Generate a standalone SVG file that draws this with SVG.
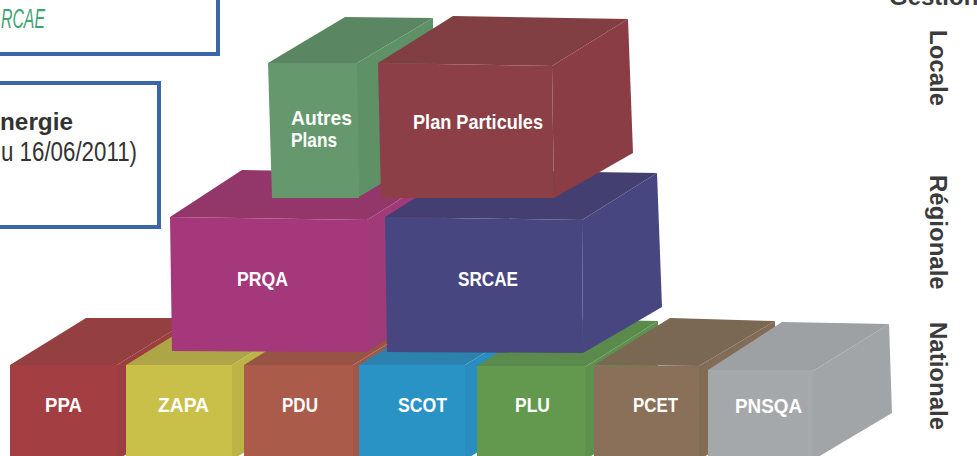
<svg xmlns="http://www.w3.org/2000/svg" width="977" height="456" viewBox="0 0 977 456">
<style>
.lbl{font-family:"Liberation Sans",Arial,sans-serif;font-weight:bold;font-size:21px;fill:#ffffff}
.lvl{font-family:"Liberation Sans",Arial,sans-serif;font-weight:bold;font-size:24px;fill:#3b3b3b}
.frame{fill:#ffffff;stroke:#3b67aa;stroke-width:4}
</style>
<rect width="977" height="456" fill="#ffffff"/>

<g id="frame-top">
<rect class="frame" x="-10" y="-10" width="228" height="64"/>
<text x="1" y="28" font-family="Liberation Sans,Arial,sans-serif" font-style="italic" font-size="27" fill="#3ea374" textLength="44" lengthAdjust="spacingAndGlyphs">RCAE</text>
</g>
<g id="frame-energie">
<rect class="frame" x="-10" y="83" width="169" height="144"/>
<text x="0" y="130" font-family="Liberation Sans,Arial,sans-serif" font-weight="bold" font-size="24" fill="#333333" textLength="73" lengthAdjust="spacingAndGlyphs">nergie</text>
<text x="1" y="161" font-family="Liberation Sans,Arial,sans-serif" font-size="27" fill="#333333" textLength="136" lengthAdjust="spacingAndGlyphs">u 16/06/2011)</text>
</g>

<g id="levels">
<text class="lvl" x="889" y="5">Gestion</text>
<text class="lvl" transform="translate(930,30) rotate(90)">Locale</text>
<text class="lvl" transform="translate(930,175) rotate(90)">Régionale</text>
<text class="lvl" transform="translate(930,322) rotate(90)">Nationale</text>
</g>

<!-- bottom row -->
<g id="PPA">
<polygon points="10,365 117,365 193,318 86,318" fill="#943f40"/>
<polygon points="117,365 193,318 193,413 117,460" fill="#9c3d40"/>
<rect x="10" y="365" width="107" height="95" fill="#a33f42"/>
<text class="lbl" x="45" y="412" textLength="37" lengthAdjust="spacingAndGlyphs">PPA</text>
</g>
<g id="ZAPA">
<polygon points="126,365 232,365 308,318 202,318" fill="#aea547"/>
<polygon points="232,365 308,318 308,413 232,460" fill="#bdb448"/>
<rect x="126" y="365" width="106" height="95" fill="#c9c049"/>
<text class="lbl" x="158" y="412" textLength="51" lengthAdjust="spacingAndGlyphs">ZAPA</text>
</g>
<g id="PDU">
<polygon points="244,365 353,365 429,318 320,318" fill="#975445"/>
<polygon points="353,365 429,318 429,413 353,460" fill="#a25748"/>
<rect x="244" y="365" width="109" height="95" fill="#ab5b4a"/>
<text class="lbl" x="282" y="412" textLength="36" lengthAdjust="spacingAndGlyphs">PDU</text>
</g>
<g id="SCOT">
<polygon points="359,365 465,365 541,318 435,318" fill="#2a82ad"/>
<polygon points="465,365 541,318 541,413 465,460" fill="#2a8dbf"/>
<rect x="359" y="365" width="106" height="95" fill="#2a93c6"/>
<text class="lbl" x="398" y="412" textLength="49" lengthAdjust="spacingAndGlyphs">SCOT</text>
</g>
<g id="PLU">
<polygon points="477,366 585,367 658,321 553,319" fill="#5a8a4c"/>
<polygon points="585,367 658,321 658,413 585,460" fill="#5f914e"/>
<rect x="477" y="366" width="108" height="94" fill="#63984f"/>
<text class="lbl" x="515" y="412" textLength="35" lengthAdjust="spacingAndGlyphs">PLU</text>
</g>
<g id="PCET">
<polygon points="594,365 699,366 775,321 670,318" fill="#7a6853"/>
<polygon points="699,366 775,321 775,413 699,460" fill="#826c56"/>
<rect x="594" y="366" width="105" height="94" fill="#8a7059"/>
<text class="lbl" x="633" y="412" textLength="45" lengthAdjust="spacingAndGlyphs">PCET</text>
</g>
<g id="PNSQA">
<polygon points="708,370 813,371 889,324 782,322" fill="#9ea1a3"/>
<polygon points="813,371 889,324 892,413 813,460" fill="#a2a5a7"/>
<rect x="708" y="370" width="105" height="90" fill="#a5a8aa"/>
<text class="lbl" x="735" y="413" font-weight="normal" fill="#f4f4f4" textLength="67" lengthAdjust="spacingAndGlyphs">PNSQA</text>
</g>

<!-- middle row -->
<g id="PRQA">
<polygon points="170,217 367,220 442,173 242,170" fill="#93376b"/>
<polygon points="367,220 442,173 442,305 367,352" fill="#a03a78"/>
<polygon points="170,217 367,220 367,352 172,351" fill="#a5387a"/>
<text class="lbl" x="237" y="286" textLength="51" lengthAdjust="spacingAndGlyphs">PRQA</text>
</g>
<g id="SRCAE">
<polygon points="385,217 582,220 657,173 460,170" fill="#433f70"/>
<polygon points="582,220 657,173 662,307 583,353" fill="#474680"/>
<polygon points="385,217 582,220 583,353 387,352" fill="#484680"/>
<text class="lbl" x="458" y="286" textLength="60" lengthAdjust="spacingAndGlyphs">SRCAE</text>
</g>

<!-- top row -->
<g id="AutresPlans">
<polygon points="268,63 357,63 433,18 345,17" fill="#5a8762"/>
<polygon points="357,63 433,18 433,153 357,198" fill="#5e9166"/>
<polygon points="268,63 357,63 359,198 272,198" fill="#65986d"/>
<text class="lbl" x="291" y="125" textLength="61" lengthAdjust="spacingAndGlyphs">Autres</text>
<text class="lbl" x="291" y="147" textLength="46" lengthAdjust="spacingAndGlyphs">Plans</text>
</g>
<g id="PlanParticules">
<polygon points="378,63 552,66 628,19 453,16" fill="#823f43"/>
<polygon points="552,66 628,19 633,153 554,198" fill="#8b3d45"/>
<polygon points="378,63 552,66 554,198 381,198" fill="#8c3f46"/>
<text class="lbl" x="413" y="129" textLength="130" lengthAdjust="spacingAndGlyphs">Plan Particules</text>
</g>
</svg>
